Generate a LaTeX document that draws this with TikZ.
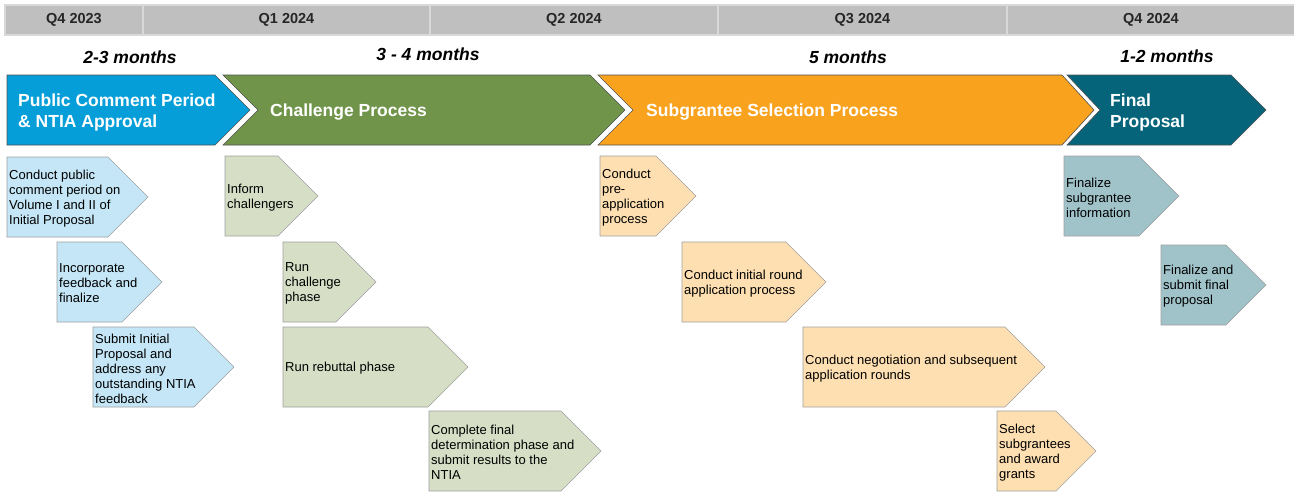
\documentclass[tikz,border=0pt]{standalone}
\usepackage{fontspec}
\setmainfont{Liberation Sans}

\definecolor{barfill}{RGB}{191,191,191}
\definecolor{baredge}{RGB}{217,217,217}
\definecolor{qtext}{RGB}{38,38,38}
\definecolor{phaseedge}{RGB}{80,80,80}
\definecolor{tagedge}{RGB}{160,160,160}
\definecolor{pubblue}{RGB}{5,158,216}
\definecolor{chalgreen}{RGB}{112,149,74}
\definecolor{suborange}{RGB}{249,162,29}
\definecolor{finteal}{RGB}{5,100,122}
\definecolor{pubtag}{RGB}{196,230,246}
\definecolor{chaltag}{RGB}{214,223,198}
\definecolor{subtag}{RGB}{254,223,177}
\definecolor{fintag}{RGB}{160,195,202}

% name, colour, left, top, end of flat part, text
\newcommand{\tagbox}[6]{%
  \filldraw[fill=#2, draw=tagedge, line width=0.6pt] (#3,#4) -- (#5,#4) -- ++(40,40) -- ++(-40,40) -- (#3,#4+80) -- cycle;
  \node (#1) at (#3+2,#4+41.5) [tagtext] {#6};
}

\begin{document}
\begin{tikzpicture}[x=1pt,y=-1pt,
  quarter/.style={fill=barfill, draw=baredge, line width=1.2pt, minimum height=30, inner sep=0pt, text=qtext, font=\fontsize{14.5}{16}\selectfont\bfseries},
  span/.style={font=\fontsize{17.5}{20}\selectfont\bfseries\itshape},
  phase/.style={draw=phaseedge, line width=0.6pt},
  phasetext/.style={anchor=west, align=left, text=white, inner sep=0pt, font=\fontsize{17.5}{21}\selectfont\bfseries},
  tagtext/.style={anchor=west, align=left, inner sep=0pt, font=\fontsize{13}{15}\selectfont},
]
\useasboundingbox (0,0) rectangle (1294,491);

\node (q4a) at (74,20) [quarter, minimum width=138] {Q4 2023};
\node (q1) at (286.5,20) [quarter, minimum width=287] {Q1 2024};
\node (q2) at (574,20) [quarter, minimum width=288] {Q2 2024};
\node (q3) at (862.5,20) [quarter, minimum width=289] {Q3 2024};
\node (q4b) at (1151,20) [quarter, minimum width=288] {Q4 2024};

\node (span1) at (130,57) [span] {2-3 months};
\node (span2) at (428,54) [span] {3 - 4 months};
\node (span3) at (848,57) [span] {5 months};
\node (span4) at (1167,56) [span] {1-2 months};

\filldraw[phase, fill=pubblue] (7,75) -- (215,75) -- (250,110) -- (215,145) -- (7,145) -- cycle;
\filldraw[phase, fill=chalgreen] (223,75) -- (590,75) -- (625,110) -- (590,145) -- (223,145) -- (258,110) -- cycle;
\filldraw[phase, fill=suborange] (598,75) -- (1062,75) -- (1094,110) -- (1062,145) -- (598,145) -- (633,110) -- cycle;
\filldraw[phase, fill=finteal] (1067,75) -- (1231,75) -- (1266,110) -- (1231,145) -- (1067,145) -- (1100,110) -- cycle;

\node (pub) at (18,112.5) [phasetext] {Public Comment Period\\\& NTIA Approval};
\node (chal) at (270,112) [phasetext] {Challenge Process};
\node (sub) at (646,112) [phasetext] {Subgrantee Selection Process};
\node (fin) at (1110,112.5) [phasetext] {Final\\Proposal};

\tagbox{comment}{pubtag}{7}{157}{108}{Conduct public\\comment period on\\Volume I and II of\\Initial Proposal}
\tagbox{incorp}{pubtag}{57}{242}{122}{Incorporate\\feedback and\\finalize}
\tagbox{submit}{pubtag}{93}{327}{194}{Submit Initial\\Proposal and\\address any\\outstanding NTIA\\feedback}

\tagbox{inform}{chaltag}{225}{156}{278}{Inform\\challengers}
\tagbox{challenge}{chaltag}{283}{242}{336}{Run\\challenge\\phase}
\tagbox{rebuttal}{chaltag}{283}{327}{428}{Run rebuttal phase}
\tagbox{determine}{chaltag}{429}{411}{561}{Complete final\\determination phase and\\submit results to the\\NTIA}

\tagbox{preapp}{subtag}{600}{156}{656}{Conduct\\pre-\\application\\process}
\tagbox{initial}{subtag}{682}{242}{786}{Conduct initial round\\application process}
\tagbox{negotiate}{subtag}{803}{327}{1005}{Conduct negotiation and subsequent\\application rounds}
\tagbox{select}{subtag}{997}{411}{1056}{Select\\subgrantees\\and award\\grants}

\tagbox{subinfo}{fintag}{1064}{156}{1139}{Finalize\\subgrantee\\information}
\tagbox{finalize}{fintag}{1161}{245}{1226}{Finalize and\\submit final\\proposal}

\end{tikzpicture}
\end{document}
